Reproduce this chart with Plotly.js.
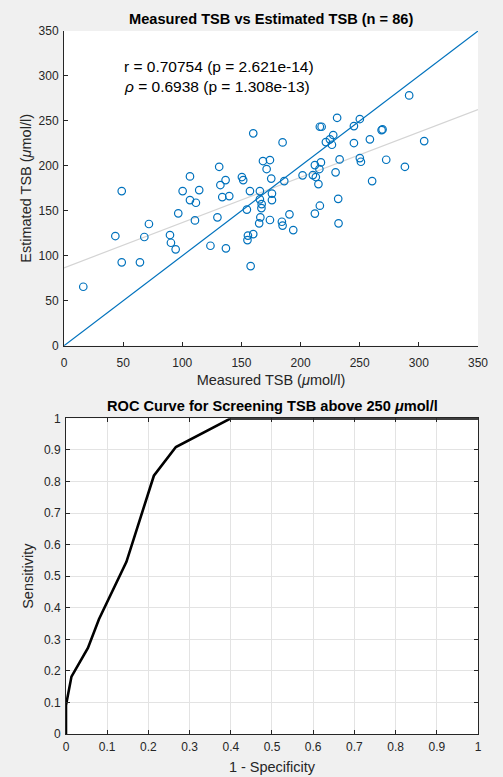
<!DOCTYPE html>
<html>
<head>
<meta charset="utf-8">
<script src="https://cdn.plot.ly/plotly-3.0.1.min.js"></script>
<style>html,body{margin:0;padding:0;background:#f0f0f0;}#chart{width:503px;height:777px;}</style>
</head>
<body>
<div id="chart"></div>
<script>
// Measured TSB (umol/l)
var measured = [16.3,43.4,48.8,48.8,64.2,67.9,71.8,89.6,90.4,94.4,96.6,100.3,106.5,106.5,111.5,114.3,110.7,123.8,129.7,131.2,136.6,132.2,133.8,139.7,136.9,150.4,151.5,157.2,160.0,154.6,165.6,165.6,167.1,166.9,168.2,174.1,171.3,175.2,175.8,175.8,166.0,174.1,165.0,155.5,155.1,160.0,157.8,184.8,186.2,184.2,184.8,190.6,193.8,201.7,210.4,212.9,215.1,212.1,217.2,215.9,216.3,217.8,221.4,216.3,212.1,224.8,227.6,226.5,230.9,245.1,250.1,268.5,269.3,245.1,258.6,304.5,233.0,250.1,251.0,272.4,288.2,229.6,260.5,231.8,232.1,291.8];
// Estimated TSB (umol/l)
var estimated = [65.6,122.0,172.0,92.7,92.7,120.9,135.4,123.1,114.5,107.2,147.2,172.0,188.3,162.0,159.0,173.1,139.4,111.2,142.8,199.0,184.2,178.7,165.3,166.4,108.3,187.6,184.2,172.0,236.2,151.4,172.0,162.8,157.5,153.1,205.4,206.5,196.5,185.9,169.2,162.0,142.8,139.8,136.1,122.5,117.5,124.2,88.6,226.1,183.1,137.9,133.6,146.1,128.6,189.5,189.8,187.6,179.8,200.9,203.9,196.5,243.5,243.5,226.5,155.7,147.0,229.5,234.3,223.5,253.5,244.3,252.1,239.8,240.6,225.4,229.5,227.6,207.2,208.7,204.6,206.8,199.0,192.8,183.1,163.4,136.1,278.4];
var axisRange = [0, 350];
var statLines = ["r = 0.70754 (p = 2.621e-14)", "<i>\u03c1</i> = 0.6938 (p = 1.308e-13)"];
// ROC curve
var fpr = [0, 0, 0.0133, 0.0533, 0.08, 0.1467, 0.2133, 0.2667, 0.4, 1];
var tpr = [0, 0.0909, 0.1818, 0.2727, 0.3636, 0.5455, 0.8182, 0.9091, 1, 1];

// least-squares fit of estimated on measured
var n = measured.length, mx = 0, my = 0;
for (var i = 0; i < n; i++) { mx += measured[i]; my += estimated[i]; }
mx /= n; my /= n;
var sxy = 0, sxx = 0;
for (var i = 0; i < n; i++) { sxy += (measured[i]-mx)*(estimated[i]-my); sxx += (measured[i]-mx)*(measured[i]-mx); }
var slope = sxy/sxx, intercept = my - slope*mx;
var fitY = axisRange.map(function(x){ return intercept + slope*x; });

var blue = '#0072BD', axc = '#262626';
var F = 'Liberation Sans, Arial, sans-serif';

var traces = [
  {x: axisRange, y: fitY, mode: 'lines', line: {color: '#d4d4d4', width: 1.2}, xaxis: 'x', yaxis: 'y', hoverinfo: 'skip'},
  {x: axisRange, y: axisRange, mode: 'lines', line: {color: blue, width: 1.2}, xaxis: 'x', yaxis: 'y'},
  {x: measured, y: estimated, mode: 'markers', marker: {symbol: 'circle-open', size: 7.5, color: blue, line: {width: 1.2, color: blue}}, xaxis: 'x', yaxis: 'y'},
  {x: fpr, y: tpr, mode: 'lines', line: {color: '#000', width: 2.6}, xaxis: 'x2', yaxis: 'y2'}
];

var layout = {
  width: 503, height: 777,
  paper_bgcolor: '#f0f0f0', plot_bgcolor: '#ffffff',
  showlegend: false,
  margin: {l: 64, r: 25, t: 31, b: 43},
  font: {family: F, color: axc, size: 12},
  xaxis: {domain: [0, 1], anchor: 'y', range: axisRange, dtick: 50, ticks: 'inside', ticklen: 4, tickcolor: axc,
    showline: true, linecolor: axc, linewidth: 1, showgrid: false, zeroline: false, mirror: false,
    tickfont: {size: 12, color: axc}, ticklabelstandoff: 6,
    title: {text: 'Measured TSB (<i>\u03bc</i>mol/l)', font: {size: 14.5, color: axc}, standoff: 5}},
  yaxis: {domain: [0.5523, 1], anchor: 'x', range: axisRange, dtick: 50, ticks: 'inside', ticklen: 4, tickcolor: axc,
    showline: true, linecolor: axc, linewidth: 1, showgrid: false, zeroline: false, mirror: false,
    tickfont: {size: 12, color: axc}, ticklabelstandoff: 2,
    title: {text: 'Estimated TSB (<i>\u03bc</i>mol/l)', font: {size: 14.5, color: axc}, standoff: 3}},
  xaxis2: {domain: [0.0048, 1], anchor: 'y2', range: [0, 1], dtick: 0.1, ticks: 'inside', ticklen: 4, tickcolor: axc,
    showline: true, linecolor: axc, linewidth: 1, mirror: 'ticks', showgrid: true, gridcolor: '#e3e3e3', zeroline: false,
    tickfont: {size: 12, color: axc}, ticklabelstandoff: 2,
    title: {text: '1 - Specificity', font: {size: 14.5, color: axc}, standoff: 8}},
  yaxis2: {domain: [0, 0.449], anchor: 'x2', range: [0, 1], dtick: 0.1, ticks: 'inside', ticklen: 4, tickcolor: axc,
    showline: true, linecolor: axc, linewidth: 1, mirror: 'ticks', showgrid: true, gridcolor: '#e3e3e3', zeroline: false,
    tickfont: {size: 12, color: axc}, ticklabelstandoff: 2,
    title: {text: 'Sensitivity', font: {size: 14.5, color: axc}, standoff: 6}},
  annotations: [
    {xref: 'paper', yref: 'paper', x: 0.5, y: 1, yshift: 12, xanchor: 'center', yanchor: 'middle', showarrow: false,
     text: '<b>Measured TSB vs Estimated TSB (n = 86)</b>', font: {size: 14.6, color: '#000'}},
    {xref: 'paper', yref: 'paper', x: 0.5048, y: 0.449, yshift: 12, xanchor: 'center', yanchor: 'middle', showarrow: false,
     text: '<b>ROC Curve for Screening TSB above 250 <i>\u03bc</i>mol/l</b>', font: {size: 14.6, color: '#000'}},
    {xref: 'x', yref: 'y', x: 49, y: 310, xanchor: 'left', yanchor: 'middle', showarrow: false,
     text: statLines[0], font: {size: 15.5, color: '#000'}},
    {xref: 'x', yref: 'y', x: 49, y: 288, xanchor: 'left', yanchor: 'middle', showarrow: false,
     text: statLines[1], font: {size: 15.5, color: '#000'}}
  ]
};

Plotly.newPlot('chart', traces, layout, {displayModeBar: false, staticPlot: true});
</script>
</body>
</html>
